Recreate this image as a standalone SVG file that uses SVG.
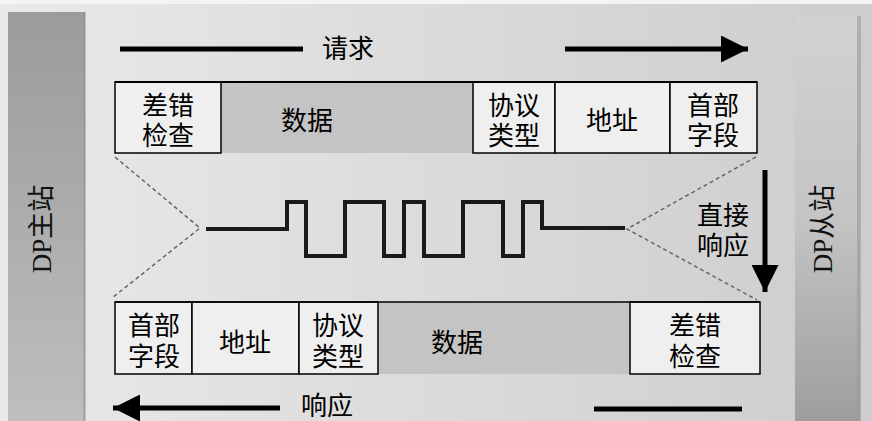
<svg xmlns="http://www.w3.org/2000/svg" width="872" height="421" viewBox="0 0 872 421">
<defs>
<linearGradient id="bg" x1="0" y1="0" x2="1" y2="0">
<stop offset="0" stop-color="#e9e9e9"/>
<stop offset="1" stop-color="#cdcdcd"/>
</linearGradient>
<linearGradient id="lbar" x1="0" y1="0" x2="0" y2="1">
<stop offset="0" stop-color="#9b9b9b"/>
<stop offset="1" stop-color="#bebebe"/>
</linearGradient>
<linearGradient id="rbar" x1="0" y1="0" x2="0" y2="1">
<stop offset="0" stop-color="#d2d2d2"/>
<stop offset="0.5" stop-color="#c4c4c4"/>
<stop offset="1" stop-color="#9e9e9e"/>
</linearGradient>
<marker id="ah" viewBox="0 0 10 10" refX="10" refY="5" markerWidth="6" markerHeight="5.4" markerUnits="strokeWidth" orient="auto">
<path d="M0,0 L10,5 L0,10 Z" fill="#000"/>
</marker>
</defs>
<style>
.cjk{font-family:"Noto Sans CJK SC","Noto Sans",sans-serif;fill:#000;}
.lbl{font-size:26px;text-anchor:middle;dominant-baseline:central;}
.side{font-family:"Liberation Serif","Noto Sans CJK SC",serif;font-size:27px;fill:#111;text-anchor:middle;dominant-baseline:central;}
.cell{stroke:#000;stroke-width:1.5;fill:#efefef;}
.data{fill:#c4c4c4;}
.arr{stroke:#000;stroke-width:5;fill:none;}
.dash{stroke:#666;stroke-width:1.5;stroke-dasharray:4 3;fill:none;}
.wave{stroke:#1a1a1a;stroke-width:4;fill:none;stroke-linejoin:miter;}
</style>
<rect x="0" y="0" width="872" height="421" fill="url(#bg)"/>
<rect x="0" y="0" width="872" height="4" fill="#f4f4f4"/>

<g id="master">
<rect x="8" y="12" width="77" height="409" fill="url(#lbar)"/>
<rect x="83" y="12" width="3" height="409" fill="#8f8f8f" opacity="0.5"/>
<text class="side" transform="translate(42,229) rotate(-90)">DP主站</text>
</g>

<g id="slave">
<rect x="795" y="16" width="65" height="405" fill="url(#rbar)"/>
<rect x="857" y="16" width="4" height="405" fill="#9a9a9a" opacity="0.6"/>
<text class="side" transform="translate(823,229) rotate(-90)">DP从站</text>
</g>

<g id="connectors">
<line class="arr" x1="120" y1="49" x2="303" y2="49"/>
<line class="arr" x1="565" y1="49" x2="748" y2="49" marker-end="url(#ah)"/>
<line class="arr" x1="765" y1="170" x2="765" y2="292" marker-end="url(#ah)"/>
<line class="arr" x1="280" y1="408" x2="113" y2="408" marker-end="url(#ah)"/>
<line class="arr" x1="594" y1="409" x2="742" y2="409"/>
<polyline class="dash" points="115,157 200,228 112,298"/>
<polyline class="dash" points="756,157 627,229 757,300"/>
</g>

<g id="labels">
<text class="cjk lbl" x="348" y="46">请求</text>
<text class="cjk lbl" x="327" y="403">响应</text>
<text class="cjk lbl" x="723" y="213"><tspan x="723" y="213">直接</tspan><tspan x="723" y="243">响应</tspan></text>
</g>

<g id="request-frame">
<rect class="data" x="221" y="82" width="252" height="71"/>
<text class="cjk lbl" x="307" y="118">数据</text>
<g id="req-crc">
<rect class="cell" x="115" y="82" width="106" height="71"/>
<text class="cjk lbl" x="168" y="103"><tspan x="168" y="103">差错</tspan><tspan x="168" y="133">检查</tspan></text>
</g>
<g id="req-proto">
<rect class="cell" x="473" y="82" width="82" height="71"/>
<text class="cjk lbl" x="514" y="103"><tspan x="514" y="103">协议</tspan><tspan x="514" y="133">类型</tspan></text>
</g>
<g id="req-addr">
<rect class="cell" x="555" y="82" width="115" height="71"/>
<text class="cjk lbl" x="612" y="118">地址</text>
</g>
<g id="req-head">
<rect class="cell" x="670" y="82" width="87" height="71"/>
<text class="cjk lbl" x="713" y="103"><tspan x="713" y="103">首部</tspan><tspan x="713" y="133">字段</tspan></text>
</g>
<line x1="115" y1="82" x2="757" y2="82" stroke="#000" stroke-width="2"/>
</g>

<g id="signal">
<polyline class="wave" points="206,229 287,229 287,202 306,202 306,256 345,256 345,202 384,202 384,256 404,256 404,202 424,202 424,256 463,256 463,202 503,202 503,256 523,256 523,202 542,202 542,228 625,228"/>
</g>

<g id="response-frame">
<rect class="data" x="378" y="302" width="252" height="72"/>
<text class="cjk lbl" x="457" y="340">数据</text>
<g id="res-head">
<rect class="cell" x="115" y="302" width="77" height="72"/>
<text class="cjk lbl" x="154" y="323"><tspan x="154" y="323">首部</tspan><tspan x="154" y="354">字段</tspan></text>
</g>
<g id="res-addr">
<rect class="cell" x="192" y="302" width="107" height="72"/>
<text class="cjk lbl" x="245" y="340">地址</text>
</g>
<g id="res-proto">
<rect class="cell" x="299" y="302" width="79" height="72"/>
<text class="cjk lbl" x="338" y="323"><tspan x="338" y="323">协议</tspan><tspan x="338" y="354">类型</tspan></text>
</g>
<g id="res-crc">
<rect class="cell" x="630" y="302" width="130" height="72"/>
<text class="cjk lbl" x="695" y="323"><tspan x="695" y="323">差错</tspan><tspan x="695" y="354">检查</tspan></text>
</g>
<line x1="115" y1="302" x2="760" y2="302" stroke="#000" stroke-width="1.5"/>
</g>
</svg>
